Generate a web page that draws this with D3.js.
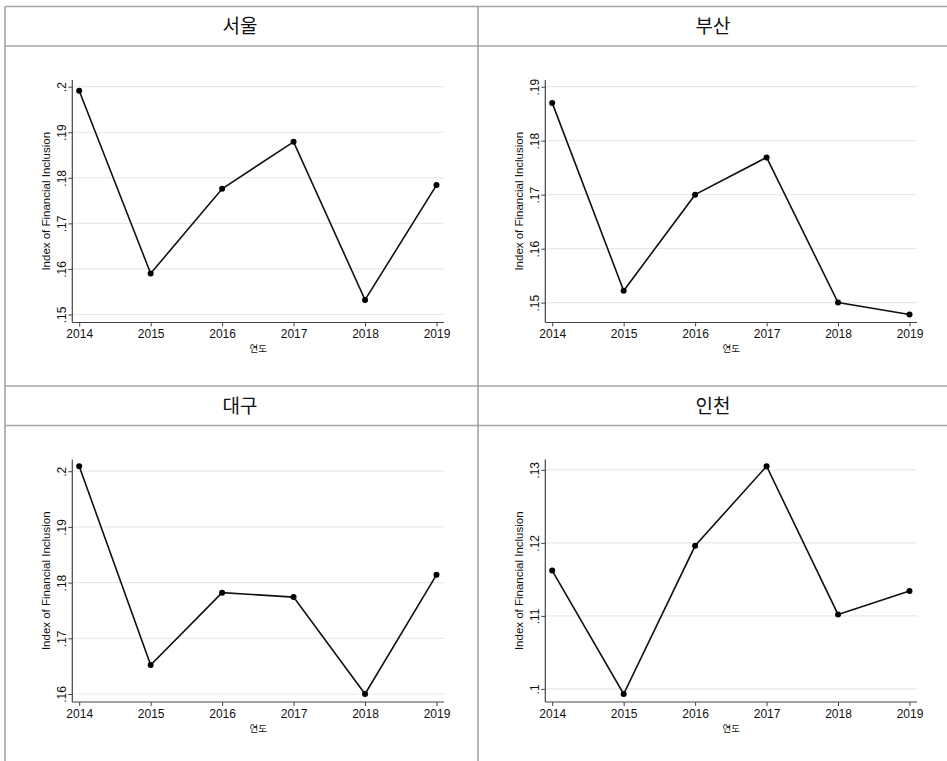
<!DOCTYPE html>
<html>
<head>
<meta charset="utf-8">
<script src="https://cdn.jsdelivr.net/npm/d3@7"></script>
<style>
  html, body { margin: 0; padding: 0; background: #fff; }
  svg { display: block; }
  text { font-family: "Liberation Sans", Arial, sans-serif; fill: #111; }
  .title { font-family: "Noto Sans CJK KR", "Noto Sans", sans-serif; font-size: 19px; }
  .xlab { font-family: "Noto Sans CJK KR", "Noto Sans", sans-serif; font-size: 9.5px; }
</style>
</head>
<body>
<svg id="chart" width="947" height="761"></svg>
<script>
// Index of Financial Inclusion by region, 2014-2019
const years = [2014, 2015, 2016, 2017, 2018, 2019];
const regions = ["서울", "부산", "대구", "인천"];

const seoul   = [0.1991, 0.1590, 0.1776, 0.1879, 0.1532, 0.1784];
const busan   = [0.1870, 0.1522, 0.1700, 0.1769, 0.1500, 0.1478];
const daegu   = [0.2009, 0.1652, 0.1782, 0.1774, 0.1600, 0.1814];
const incheon = [0.1162, 0.0993, 0.1196, 0.1305, 0.1102, 0.1134];

const seoulTicks   = [0.15, 0.16, 0.17, 0.18, 0.19, 0.20];
const busanTicks   = [0.15, 0.16, 0.17, 0.18, 0.19];
const daeguTicks   = [0.16, 0.17, 0.18, 0.19, 0.20];
const incheonTicks = [0.10, 0.11, 0.12, 0.13];

const xTitle = "연도";
const yTitle = "Index of Financial Inclusion";

const panels = [
  { name: regions[0], values: seoul,   ticks: seoulTicks,   col: 0, row: 0 },
  { name: regions[1], values: busan,   ticks: busanTicks,   col: 1, row: 0 },
  { name: regions[2], values: daegu,   ticks: daeguTicks,   col: 0, row: 1 },
  { name: regions[3], values: incheon, ticks: incheonTicks, col: 1, row: 1 }
];

const svg = d3.select("#chart");
const W = 947, H = 761;

// grid of panels
const colX = [5, 478];
const colW = 473;
const rowY = [6.5, 386];
const titleH = 39.5;
const frameColor = "#a4a4a4";

// tick-label style helper (Stata-like ".15")
const fmtY = v => d3.format(".2~f")(v).replace(/^0/, "");

panels.forEach(p => {
  const x0 = colX[p.col];
  const y0 = rowY[p.row] + titleH;       // top of plot band

  // plot frame
  const axisX = x0 + 67.3;
  const right = x0 + 439;
  const frameTop = y0 + 34;
  const frameBottom = y0 + 276.5;
  const innerTop = y0 + 40.7;
  const innerBottom = y0 + 268.5;

  const x = d3.scaleLinear()
    .domain(d3.extent(years))
    .range([x0 + 74.2, x0 + 431.5]);

  const lo = Math.min(d3.min(p.values), d3.min(p.ticks));
  const hi = Math.max(d3.max(p.values), d3.max(p.ticks));
  const y = d3.scaleLinear().domain([lo, hi]).range([innerBottom, innerTop]);

  const g = svg.append("g");

  // title
  g.append("text")
    .attr("class", "title")
    .attr("x", x0 + colW / 2 - 1.5)
    .attr("y", rowY[p.row] + titleH / 2 + 7)
    .attr("text-anchor", "middle")
    .text(p.name);

  // horizontal grid lines
  g.append("g").selectAll("line")
    .data(p.ticks)
    .join("line")
    .attr("x1", axisX + 1).attr("x2", right)
    .attr("y1", d => y(d)).attr("y2", d => y(d))
    .attr("stroke", "#e9e9e9")
    .attr("stroke-width", 1.2);

  // y axis
  const yAxis = g.append("g")
    .attr("transform", `translate(${axisX},0)`)
    .call(d3.axisLeft(y).tickValues(p.ticks).tickFormat(fmtY).tickSize(4));
  yAxis.select(".domain").remove();
  yAxis.selectAll(".tick line").attr("stroke", "#444");
  yAxis.selectAll(".tick text")
    .attr("x", null).attr("dy", null)
    .attr("text-anchor", "middle")
    .attr("transform", "translate(-6,0) rotate(-90)")
    .style("font-size", "12px")
    .style("font-family", "'Liberation Sans', Arial, sans-serif")
    .attr("fill", "#111");
  g.append("line")
    .attr("x1", axisX).attr("x2", axisX)
    .attr("y1", frameTop).attr("y2", frameBottom)
    .attr("stroke", "#444").attr("stroke-width", 1.2);

  // x axis
  const xAxis = g.append("g")
    .attr("transform", `translate(0,${frameBottom})`)
    .call(d3.axisBottom(x).tickValues(years).tickFormat(d3.format("d")).tickSize(4).tickPadding(3));
  xAxis.select(".domain").remove();
  xAxis.selectAll(".tick line").attr("stroke", "#444");
  xAxis.selectAll(".tick text")
    .style("font-size", "12px")
    .style("font-family", "'Liberation Sans', Arial, sans-serif")
    .attr("fill", "#111");
  g.append("line")
    .attr("x1", axisX).attr("x2", right)
    .attr("y1", frameBottom).attr("y2", frameBottom)
    .attr("stroke", "#444").attr("stroke-width", 1.2);

  // axis titles
  g.append("text")
    .attr("class", "xlab")
    .attr("x", (axisX + right) / 2)
    .attr("y", frameBottom + 29.5)
    .attr("text-anchor", "middle")
    .text(xTitle);

  g.append("text")
    .attr("transform", `translate(${axisX - 22},${(frameTop + frameBottom) / 2}) rotate(-90)`)
    .attr("text-anchor", "middle")
    .style("font-size", "11.5px")
    .text(yTitle);

  // series line and markers
  const pts = years.map((yr, i) => [yr, p.values[i]]);
  g.append("path")
    .datum(pts)
    .attr("fill", "none")
    .attr("stroke", "#111")
    .attr("stroke-width", 1.6)
    .attr("d", d3.line().x(d => x(d[0])).y(d => y(d[1])));

  g.append("g").selectAll("circle")
    .data(pts)
    .join("circle")
    .attr("cx", d => x(d[0]))
    .attr("cy", d => y(d[1]))
    .attr("r", 3)
    .attr("fill", "#000");
});

// table frame lines
const frame = svg.append("g")
  .attr("stroke", frameColor)
  .attr("stroke-width", 1.6)
  .attr("fill", "none");
[rowY[0], rowY[0] + titleH, rowY[1], rowY[1] + titleH].forEach(yy => {
  frame.append("line").attr("x1", colX[0]).attr("x2", W).attr("y1", yy).attr("y2", yy);
});
[colX[0], colX[1]].forEach(xx => {
  frame.append("line").attr("x1", xx).attr("x2", xx).attr("y1", rowY[0]).attr("y2", H);
});
</script>
</body>
</html>
